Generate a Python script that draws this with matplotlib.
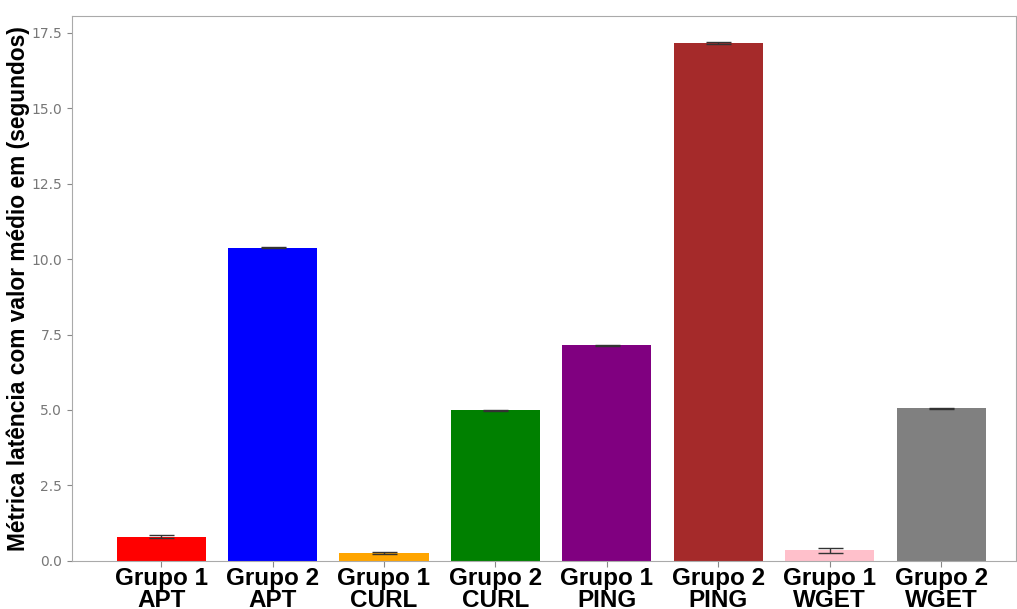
import matplotlib
matplotlib.use("Agg")
import matplotlib.pyplot as plt

categories = ["Grupo 1\nAPT", "Grupo 2\nAPT", "Grupo 1\nCURL", "Grupo 2\nCURL",
              "Grupo 1\nPING", "Grupo 2\nPING", "Grupo 1\nWGET", "Grupo 2\nWGET"]
values = [0.80, 10.38, 0.27, 4.99, 7.14, 17.16, 0.35, 5.05]
errors = [0.045, 0.02, 0.03, 0.02, 0.02, 0.02, 0.08, 0.02]
colors = ["red", "blue", "orange", "green", "purple", "brown", "pink", "gray"]

fig = plt.figure(figsize=(10.17, 6.09), dpi=100)
ax = fig.add_axes([0.0708, 0.079, 0.928, 0.895])
x = list(range(len(categories)))
ax.bar(x, values, width=0.8, color=colors, yerr=errors, capsize=9,
       error_kw=dict(ecolor="#333333", elinewidth=1, capthick=1))
ax.set_xlim(-0.8, 7.67)
ax.set_ylim(0, 18.06)
ax.set_yticks([0, 2.5, 5, 7.5, 10, 12.5, 15, 17.5])
ax.set_yticklabels(["0.0", "2.5", "5.0", "7.5", "10.0", "12.5", "15.0", "17.5"])
ax.set_xticks(x)
ax.set_xticklabels(categories, fontsize=17.5, fontweight="bold",
                   family="Liberation Sans", linespacing=0.95)
ax.tick_params(axis="y", colors="#888888", labelsize=10, length=3.5, pad=3.5)
ax.tick_params(axis="x", colors="#888888", labelcolor="black", length=4, pad=0.5)
for lbl in ax.get_yticklabels():
    lbl.set_color("#777777")
for s in ax.spines.values():
    s.set_color("#aaaaaa")
ax.set_ylabel("Métrica latência com valor médio em (segundos)", fontsize=16.4,
              fontweight="bold", family="Liberation Sans", labelpad=1)
fig.savefig("out.png", dpi=100)
